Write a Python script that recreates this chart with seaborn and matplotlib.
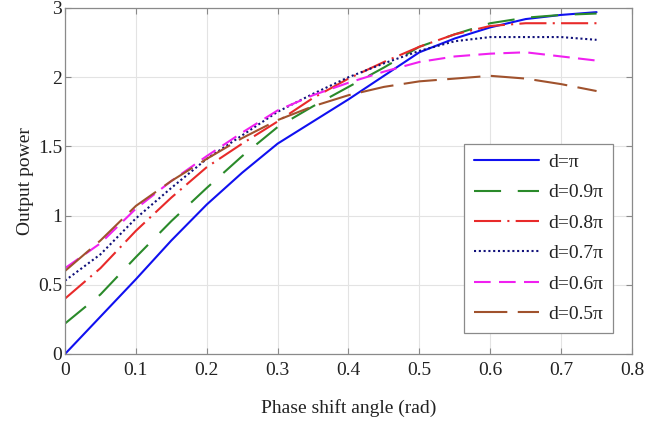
import matplotlib
matplotlib.use("Agg")
import matplotlib.pyplot as plt
import seaborn as sns
import numpy as np
import pandas as pd

# ---- data ----
phase = [0.0, 0.05, 0.10, 0.15, 0.20, 0.25, 0.30, 0.35, 0.40, 0.45,
         0.50, 0.55, 0.60, 0.65, 0.70, 0.75]
d_pi  = [0.00, 0.27, 0.54, 0.82, 1.08, 1.31, 1.52, 1.68, 1.84, 2.01,
         2.18, 2.28, 2.36, 2.42, 2.45, 2.47]
d_09  = [0.22, 0.43, 0.70, 0.96, 1.20, 1.43, 1.64, 1.79, 1.93, 2.07,
         2.22, 2.31, 2.39, 2.43, 2.45, 2.46]
d_08  = [0.40, 0.62, 0.89, 1.13, 1.35, 1.52, 1.68, 1.85, 1.99, 2.11,
         2.22, 2.31, 2.37, 2.39, 2.39, 2.39]
d_07  = [0.53, 0.72, 0.98, 1.20, 1.41, 1.58, 1.75, 1.88, 2.00, 2.10,
         2.19, 2.26, 2.29, 2.29, 2.29, 2.27]
d_06  = [0.62, 0.80, 1.05, 1.25, 1.43, 1.60, 1.76, 1.87, 1.96, 2.04,
         2.11, 2.15, 2.17, 2.18, 2.15, 2.12]
d_05  = [0.60, 0.82, 1.07, 1.25, 1.41, 1.56, 1.69, 1.79, 1.87, 1.93,
         1.97, 1.99, 2.01, 1.99, 1.95, 1.90]

series_labels = ["d=\u03c0", "d=0.9\u03c0", "d=0.8\u03c0", "d=0.7\u03c0", "d=0.6\u03c0", "d=0.5\u03c0"]
series_values = [d_pi, d_09, d_08, d_07, d_06, d_05]

x_ticks = [0, 0.1, 0.2, 0.3, 0.4, 0.5, 0.6, 0.7, 0.8]
x_tick_labels = ["0", "0.1", "0.2", "0.3", "0.4", "0.5", "0.6", "0.7", "0.8"]
y_ticks = [0, 0.5, 1, 1.5, 2, 2.5]
y_tick_labels = ["0", "0.5", "1", "1.5", "2", "3"]

# ---- styles ----
colors = ["#1010f0", "#2a8a2a", "#e82a2a", "#10107a", "#f020f0", "#a0522d"]
styles = ["-", (0, (13, 8)), (0, (13, 3, 1, 3)), (0, (1, 1.3)), (0, (8, 4)), (0, (16, 5))]

sns.set_theme(style="whitegrid")
plt.rcParams["font.family"] = ["Liberation Serif", "DejaVu Serif"]

fig = plt.figure(figsize=(6.68, 4.24), dpi=100)
ax = fig.add_axes([65 / 668, 70 / 424, 567 / 668, 346 / 424])

for lab, vals, c, ls in zip(series_labels, series_values, colors, styles):
    df = pd.DataFrame({"phase": phase, "power": vals})
    sns.lineplot(data=df, x="phase", y="power", ax=ax, color=c,
                 linestyle=ls, linewidth=1.5, label=lab)

ax.set_xlim(0, 0.8)
ax.set_ylim(0, 2.5)
ax.set_xticks(x_ticks)
ax.set_xticklabels(x_tick_labels)
ax.set_yticks(y_ticks)
ax.set_yticklabels(y_tick_labels)

ax.set_facecolor("white")
ax.grid(True, color="#e3e3e3", linewidth=0.8, linestyle="-")
for sp in ax.spines.values():
    sp.set_visible(True)
    sp.set_color("#8a8a8a")
    sp.set_linewidth(0.9)

ax.tick_params(axis="both", which="both", direction="in", length=4,
               width=0.8, color="#8a8a8a", labelsize=14, labelcolor="#222222",
               top=True, right=True, bottom=True, left=True)
ax.tick_params(axis="y", pad=2)
ax.tick_params(axis="x", pad=6)

ax.set_xlabel("Phase shift angle (rad)", fontsize=14, color="#222222", labelpad=14)
ax.set_ylabel("Output power", fontsize=14, color="#222222", labelpad=3)

leg = ax.legend(loc="lower right", bbox_to_anchor=(0.966, 0.061),
                borderaxespad=0, fontsize=14, handlelength=3.35,
                handletextpad=0.45, labelspacing=0.66, borderpad=0.5,
                fancybox=False, framealpha=1, edgecolor="#8a8a8a")
leg.get_frame().set_linewidth(0.9)
for t in leg.get_texts():
    t.set_color("#222222")

fig.savefig("out.png", dpi=100)
